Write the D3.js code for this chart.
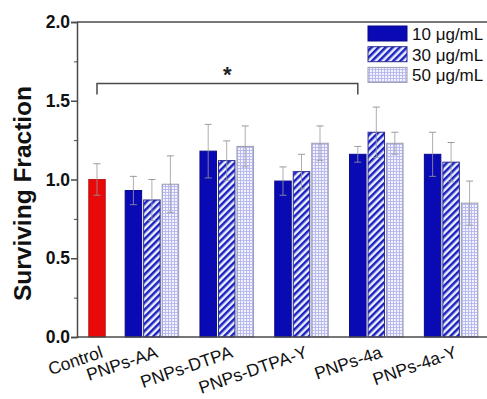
<!DOCTYPE html>
<html><head><meta charset="utf-8">
<script src="https://cdn.jsdelivr.net/npm/d3@7"></script>
<style>body{margin:0;background:#fff}svg{display:block}</style>
</head><body>
<svg id="c" width="487" height="399"></svg>
<script>
const groups = ["PNPs-AA","PNPs-DTPA","PNPs-DTPA-Y","PNPs-4a","PNPs-4a-Y"];
const concs = ["10 μg/mL","30 μg/mL","50 μg/mL"];
const controlLabel = "Control";
const controlMean = 1.00;
const controlErr = 0.10;
const mean10 = [0.93,1.18,0.99,1.16,1.16];
const err10  = [0.09,0.17,0.09,0.05,0.14];
const mean30 = [0.87,1.12,1.05,1.30,1.11];
const err30  = [0.13,0.125,0.11,0.16,0.125];
const mean50 = [0.97,1.21,1.23,1.23,0.85];
const err50  = [0.18,0.13,0.11,0.07,0.14];
const yTicks = [0,0.5,1.0,1.5,2.0];
const yMinor = [0.25,0.75,1.25,1.75];
const bracketLevel = 1.61, bracketEnd = 1.54;
const sigMark = "*";
const yTitle = "Surviving Fraction";

const svg = d3.select("#c");
const L = 77, R = 520, T = 22, B = 337;
const y = d3.scaleLinear().domain([0,2]).range([B,T]);
const xg = d3.scaleBand().domain(groups).range([114.5,488.5]);
const xc = d3.scaleBand().domain([controlLabel]).range([79,115]);
const xs = d3.scaleBand().domain(concs).range([-27.75,27.75]).paddingInner(0.11).paddingOuter(0.055);
const bw = xs.bandwidth();

// patterns
const defs = svg.append("defs");
const hp = defs.append("pattern").attr("id","hatch").attr("patternUnits","userSpaceOnUse")
  .attr("width",5).attr("height",5).attr("patternTransform","rotate(45)");
hp.append("rect").attr("width",5).attr("height",5).attr("fill","#eef0ff");
hp.append("rect").attr("width",2.5).attr("height",5).attr("fill","#1a22c0");
const dp = defs.append("pattern").attr("id","dots").attr("patternUnits","userSpaceOnUse")
  .attr("width",3).attr("height",3);
dp.append("rect").attr("width",3).attr("height",3).attr("fill","#f4f4ff");
dp.append("rect").attr("width",3).attr("height",1).attr("fill","#b8baf0");
dp.append("rect").attr("width",1).attr("height",3).attr("fill","#b8baf0");

const fills = {"10 μg/mL":"#0a0ab4","30 μg/mL":"url(#hatch)","50 μg/mL":"url(#dots)"};
const strokes = {"10 μg/mL":"#08088a","30 μg/mL":"#2a2a90","50 μg/mL":"#9a9aae"};

const rows = [];
groups.forEach((g,i)=>{
  rows.push({g, c:concs[0], m:mean10[i], e:err10[i]});
  rows.push({g, c:concs[1], m:mean30[i], e:err30[i]});
  rows.push({g, c:concs[2], m:mean50[i], e:err50[i]});
});
rows.forEach(d=>{ d.cx = xg(d.g)+xg.bandwidth()/2 + xs(d.c) + bw/2; });
const ctrl = {m:controlMean, e:controlErr, cx: xc(controlLabel)+xc.bandwidth()/2};

// bars
svg.append("rect").attr("x",ctrl.cx-bw/2).attr("width",bw).attr("y",y(ctrl.m)).attr("height",y(0)-y(ctrl.m))
  .attr("fill","#e80a0a").attr("stroke","#b00000").attr("stroke-width",0.8);
svg.selectAll("rect.bar").data(rows).join("rect").attr("class","bar")
  .attr("x",d=>d.cx-bw/2).attr("width",bw).attr("y",d=>y(d.m)).attr("height",d=>y(0)-y(d.m))
  .attr("fill",d=>fills[d.c]).attr("stroke",d=>strokes[d.c]).attr("stroke-width",1);

// error bars
const all = [ctrl, ...rows];
const eg = svg.append("g").attr("stroke","#9a9a9a").attr("stroke-width",1).attr("fill","none");
all.forEach(d=>{
  eg.append("line").attr("x1",d.cx).attr("x2",d.cx).attr("y1",y(d.m-d.e)).attr("y2",y(d.m+d.e)).attr("stroke-opacity",0.8);
  eg.append("line").attr("x1",d.cx-3.5).attr("x2",d.cx+3.5).attr("y1",y(d.m+d.e)).attr("y2",y(d.m+d.e));
  eg.append("line").attr("x1",d.cx-3.5).attr("x2",d.cx+3.5).attr("y1",y(d.m-d.e)).attr("y2",y(d.m-d.e)).attr("stroke-opacity",0.8);
});

// frame
const ax = "#4a4a4a";
svg.append("line").attr("x1",L).attr("x2",R).attr("y1",y(2)).attr("y2",y(2)).attr("stroke",ax).attr("stroke-width",1.5);
svg.append("line").attr("x1",L).attr("x2",R).attr("y1",y(0)).attr("y2",y(0)).attr("stroke",ax).attr("stroke-width",1.5);

const yA = svg.append("g").attr("transform",`translate(${L},0)`)
  .call(d3.axisLeft(y).tickValues(yTicks).tickSize(6).tickPadding(1).tickFormat(d3.format(".1f")));
yA.select(".domain").attr("stroke",ax).attr("stroke-width",1.5);
yA.selectAll(".tick line").attr("stroke",ax).attr("stroke-width",1.5);
yA.selectAll("text").attr("font-family","Liberation Sans, Arial").attr("font-weight","bold").attr("font-size",17.5).attr("fill","#111");
const yM = svg.append("g").attr("transform",`translate(${L},0)`)
  .call(d3.axisLeft(y).tickValues(yMinor).tickSize(3).tickFormat(""));
yM.select(".domain").remove();
yM.selectAll(".tick line").attr("stroke",ax).attr("stroke-width",1);

// y title
svg.append("text").attr("transform",`translate(31,${(T+B)/2+14}) rotate(-90)`).attr("text-anchor","middle")
  .attr("font-family","Liberation Sans, Arial").attr("font-weight","bold").attr("font-size",24.5).attr("fill","#111").text(yTitle);

// x labels
const labs = [{t:controlLabel, cx:ctrl.cx}, ...groups.map(g=>({t:g, cx:xg(g)+xg.bandwidth()/2}))];
svg.selectAll("text.xl").data(labs).join("text").attr("class","xl")
  .attr("transform",d=>`translate(${d.cx+7},357) rotate(-19)`).attr("text-anchor","end")
  .attr("font-family","Liberation Sans, Arial").attr("font-size",17.5).attr("fill","#111").text(d=>d.t);

// significance bracket
const bx2 = rows[9].cx;
svg.append("path").attr("d",`M${ctrl.cx},${y(bracketEnd)}V${y(bracketLevel)}H${bx2}V${y(bracketEnd)}`)
  .attr("fill","none").attr("stroke",ax).attr("stroke-width",1.5);
svg.append("text").attr("x",(ctrl.cx+bx2)/2).attr("y",y(bracketLevel)-1).attr("text-anchor","middle")
  .attr("font-family","Liberation Sans, Arial").attr("font-weight","bold").attr("font-size",22).attr("fill","#222").text(sigMark);

// legend
const lg = svg.append("g");
concs.forEach((c,i)=>{
  const yy = 26 + i*20.7;
  lg.append("rect").attr("x",368).attr("y",yy).attr("width",39).attr("height",15)
    .attr("fill",fills[c]).attr("stroke",strokes[c]).attr("stroke-width",1);
  lg.append("text").attr("x",412).attr("y",yy+14).attr("font-family","Liberation Sans, Arial")
    .attr("font-size",17).attr("fill","#111").text(c);
});
</script>
</body></html>
